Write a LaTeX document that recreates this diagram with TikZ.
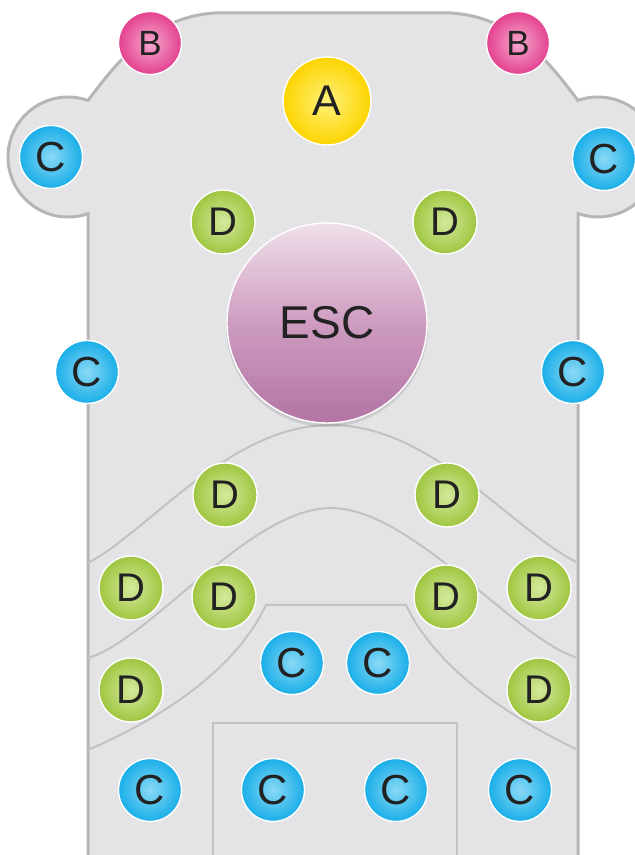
\documentclass[tikz,border=0pt]{standalone}
\usepackage{fontspec}
\setmainfont{Liberation Sans}
\definecolor{bodyfill}{HTML}{E4E4E6}
\definecolor{bodyline}{HTML}{B6B6B8}
\definecolor{innerline}{HTML}{C2C2C4}
\definecolor{txt}{HTML}{222222}
\begin{document}
\begin{tikzpicture}[x=1pt,y=1pt,
  ball/.style={circle,inner sep=0pt,draw=white,line width=1.4pt,text=txt},
  ballA/.style={ball,minimum size=88pt,inner color={rgb,255:red,255;green,242;blue,122},outer color={rgb,255:red,253;green,212;blue,0},font=\fontsize{43}{43}\selectfont},
  ballB/.style={ball,minimum size=63pt,inner color={rgb,255:red,245;green,168;blue,204},outer color={rgb,255:red,227;green,65;blue,143},font=\fontsize{35}{35}\selectfont},
  ballC/.style={ball,minimum size=63pt,inner color={rgb,255:red,138;green,217;blue,246},outer color={rgb,255:red,25;green,174;blue,232},font=\fontsize{42}{42}\selectfont},
  ballD/.style={ball,minimum size=64pt,inner color={rgb,255:red,212;green,233;blue,156},outer color={rgb,255:red,159;green,198;blue,64},font=\fontsize{40}{40}\selectfont},
  escball/.style={ball,minimum size=200pt,top color={rgb,255:red,239;green,224;blue,234},bottom color={rgb,255:red,178;green,116;blue,164},middle color={rgb,255:red,206;green,156;blue,192},font=\fontsize{46}{46}\selectfont},
  bodyedge/.style={draw=bodyline,line width=3pt},
  keyline/.style={draw=innerline,line width=2pt}
]
\useasboundingbox (0,0) rectangle (635,855);
\clip (0,0) rectangle (635,855);
% body
\path[fill=bodyfill,bodyedge]
  (88,-5) -- (88,641.4)
  arc[start angle=-70.53, end angle=-289.47, radius=60]
  .. controls (115,790) and (150,838) .. (215,842)
  -- (451,842)
  .. controls (516,838) and (551,790) .. (578,754.6)
  arc[start angle=109.47, end angle=-109.47, radius=60]
  -- (578,-5);
% inner lines
\path[keyline] (88,292) .. controls (150,325) and (230,430) .. (331,430)
  .. controls (432,430) and (512,325) .. (578,292);
\path[keyline] (88,197) .. controls (150,215) and (250,347) .. (331,347)
  .. controls (412,347) and (516,215) .. (578,197);
\path[keyline] (88,105) .. controls (180,145) and (240,195) .. (266,250)
  -- (406,250) .. controls (432,195) and (494,145) .. (578,105);
\path[keyline] (213,-5) -- (213,132) -- (457,132) -- (457,-5);
% ESC shadow
\fill[black,opacity=0.10] (327,529) circle (101);
% keys
\node[ballA] (a) at (327,754) {A};
\node[ballB] (b1) at (150,812) {B};
\node[ballB] (b2) at (518,812) {B};
\node[ballC] (c1) at (51,698) {C};
\node[ballC] (c2) at (604,696) {C};
\node[ballD] (d1) at (223,633) {D};
\node[ballD] (d2) at (445,633) {D};
\node[escball] (esc) at (327,532) {ESC};
\node[ballC] (c3) at (87,483) {C};
\node[ballC] (c4) at (573,483) {C};
\node[ballD] (d3) at (225,360) {D};
\node[ballD] (d4) at (447,360) {D};
\node[ballD] (d5) at (131,267) {D};
\node[ballD] (d6) at (224,258) {D};
\node[ballD] (d7) at (446,258) {D};
\node[ballD] (d8) at (539,267) {D};
\node[ballC] (c5) at (292,192) {C};
\node[ballC] (c6) at (378,192) {C};
\node[ballD] (d9) at (131,165) {D};
\node[ballD] (d10) at (539,165) {D};
\node[ballC] (c7) at (150,65) {C};
\node[ballC] (c8) at (273,65) {C};
\node[ballC] (c9) at (396,65) {C};
\node[ballC] (c10) at (520,65) {C};
\end{tikzpicture}
\end{document}
